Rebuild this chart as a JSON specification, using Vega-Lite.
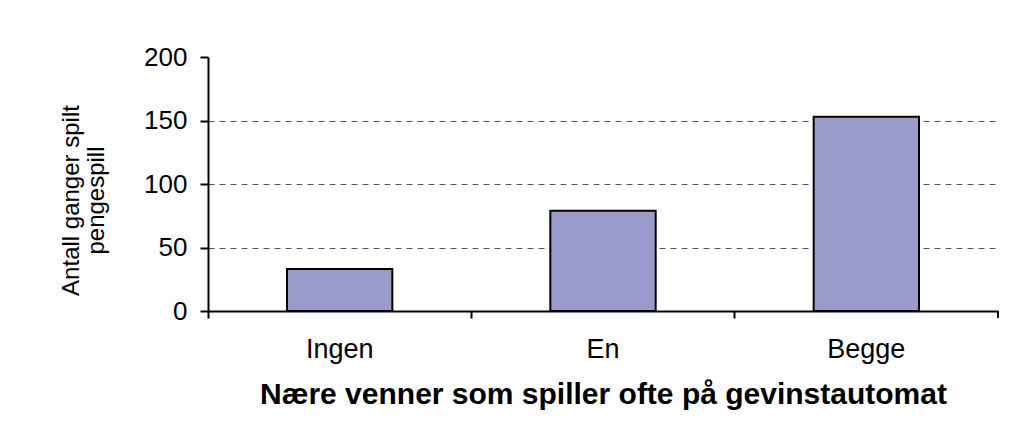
{
  "$schema": "https://vega.github.io/schema/vega-lite/v6.json",
  "autosize": {"type": "none"},
  "width": 790,
  "height": 254,
  "padding": {"left": 208, "top": 57, "right": 33, "bottom": 110},
  "background": "white",
  "config": {
    "view": {"stroke": null},
    "font": "Liberation Sans",
    "axis": {"labelFont": "Liberation Sans", "titleFont": "Liberation Sans"}
  },
  "data": {"values": [
    {"venner": "Ingen", "antall": 33},
    {"venner": "En", "antall": 79},
    {"venner": "Begge", "antall": 153}
  ]},
  "layer": [
    {
      "mark": {"type": "bar", "fill": "#9B9BCB", "stroke": "black", "strokeWidth": 2, "width": {"band": 0.4}},
      "encoding": {
        "x": {
          "field": "venner", "type": "nominal", "sort": ["Ingen", "En", "Begge"],
          "scale": {"paddingInner": 0, "paddingOuter": 0},
          "axis": {
            "title": "Nære venner som spiller ofte på gevinstautomat",
            "titleFontSize": 30, "titleFontWeight": "bold", "titleColor": "black", "titlePadding": 17,
            "labelAngle": 0, "labelFontSize": 27, "labelColor": "black", "labelPadding": 18,
            "bandPosition": 0, "tickSize": 7, "tickWidth": 2, "tickColor": "black",
            "domainColor": "black", "domainWidth": 2, "grid": false
          }
        },
        "y": {
          "field": "antall", "type": "quantitative",
          "scale": {"domain": [0, 200], "nice": false},
          "axis": {
            "title": ["Antall ganger spilt", "pengespill"],
            "titleFontSize": 24, "titleFontWeight": "normal", "titleColor": "black", "titlePadding": 35,
            "titleLineHeight": 25, "titleY": 143,
            "values": [0, 50, 100, 150, 200],
            "labelFontSize": 26, "labelColor": "black", "labelPadding": 13,
            "tickSize": 8, "tickWidth": 2, "tickColor": "black",
            "domainColor": "black", "domainWidth": 2,
            "grid": true, "gridDash": [6, 5], "gridColor": "#555555", "gridWidth": 1,
            "gridOpacity": {"condition": {"test": "datum.value == 200 || datum.value == 0", "value": 0}, "value": 1}
          }
        }
      }
    },
    {
      "data": {"values": [{"venner": "Begge", "lo": 0, "hi": -5.5}]},
      "mark": {"type": "rule", "color": "black", "strokeWidth": 2, "clip": false},
      "encoding": {
        "x": {"field": "venner", "type": "nominal", "sort": ["Ingen", "En", "Begge"], "bandPosition": 1},
        "y": {"field": "lo", "type": "quantitative"},
        "y2": {"field": "hi"}
      }
    }
  ]
}
